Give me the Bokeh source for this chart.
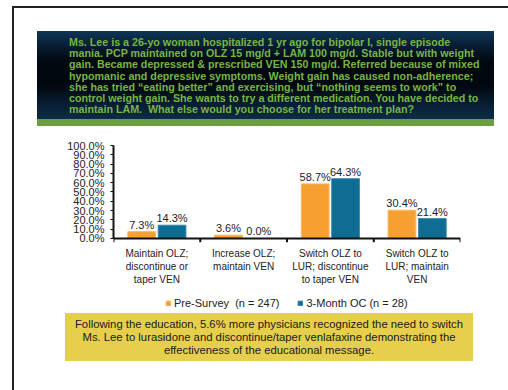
from bokeh.plotting import figure
from bokeh.layouts import column
from bokeh.models import (FactorRange, Range1d, ColumnDataSource, Legend, LegendItem,
                          PrintfTickFormatter, FixedTicker, Div)
from bokeh.transform import dodge
from bokeh.core.properties import value
from bokeh.embed import file_html
from bokeh.resources import INLINE

# ---------------- data ----------------
categories = ["Maintain OLZ;\ndiscontinue or\ntaper VEN",
              "Increase OLZ;\nmaintain VEN",
              "Switch OLZ to\nLUR; discontinue\nto taper VEN",
              "Switch OLZ to\nLUR; maintain\nVEN"]
pre_survey = [7.3, 3.6, 58.7, 30.4]
month3_oc = [14.3, 0.0, 64.3, 21.4]
series_names = ["Pre-Survey  (n = 247)", "3-Month OC (n = 28)"]
y_ticks = [0, 10, 20, 30, 40, 50, 60, 70, 80, 90, 100]

header_lines = [
    "Ms. Lee is a 26-yo woman hospitalized 1 yr ago for bipolar I, single episode",
    "mania. PCP maintained on OLZ 15 mg/d + LAM 100 mg/d. Stable but with weight",
    "gain. Became depressed &amp; prescribed VEN 150 mg/d. Referred because of mixed",
    "hypomanic and depressive symptoms. Weight gain has caused non-adherence;",
    "she has tried \u201ceating better\u201d and exercising, but \u201cnothing seems to work\u201d to",
    "control weight gain. She wants to try a different medication. You have decided to",
    "maintain LAM.&nbsp; What else would you choose for her treatment plan?",
]
footer_lines = [
    "Following the education, 5.6% more physicians recognized the need to switch",
    "Ms. Lee to lurasidone and discontinue/taper venlafaxine demonstrating the",
    "effectiveness of the educational message.",
]

FONT = "Liberation Sans"
ORANGE = "#F6A031"
BLUE = "#0F6C92"

# ---------------- header (HTML) ----------------
header_html = (
    '<div style="position:relative;width:508px;height:130px;">'
    '<div style="position:absolute;left:37px;top:31px;width:457px;height:88px;'
    'background:linear-gradient(to bottom,#0f3556 0%,#06192d 20%,#02080f 35%,#02080f 62%,#071d31 82%,#0c2c49 100%);"></div>'
    '<div style="position:absolute;left:37px;top:119px;width:457px;height:7px;background:#6c9f42;"></div>'
    '<div style="position:absolute;left:69px;top:37px;white-space:nowrap;'
    f'font-family:\'{FONT}\';font-weight:bold;font-size:10.7px;line-height:11.2px;color:#78b443;">'
    + "<br>".join(header_lines) +
    '</div></div>'
)
header = Div(text=header_html, width=508, height=130, margin=0)

# ---------------- chart ----------------
src = ColumnDataSource(dict(cat=categories, pre=pre_survey, oc=month3_oc,
                            pre_lbl=[f"{v:.1f}%" for v in pre_survey],
                            oc_lbl=[f"{v:.1f}%" for v in month3_oc]))

# frame extends below the zero line so the legend can sit inside it
p = figure(width=508, height=230, x_range=FactorRange(*categories, range_padding=0),
           y_range=Range1d(-79.6, 100), output_backend="svg", toolbar_location=None,
           min_border_left=113, min_border_right=48, min_border_top=15, min_border_bottom=48,
           margin=0)
p.outline_line_color = None
p.border_fill_color = None
p.background_fill_color = None
p.grid.visible = False

r1 = p.vbar(x=dodge("cat", -0.175, range=p.x_range), top="pre", width=0.32, source=src,
            fill_color=ORANGE, line_color="#f8b765", line_width=1)
r2 = p.vbar(x=dodge("cat", 0.175, range=p.x_range), top="oc", width=0.32, source=src,
            fill_color=BLUE, line_color="#3a8bb0", line_width=1)
p.text(x=dodge("cat", -0.175, range=p.x_range), y="pre", text="pre_lbl", source=src,
       text_font=value(FONT), text_font_size="11px", text_color="#222222",
       text_align="center", text_baseline="bottom", y_offset=-1)
p.text(x=dodge("cat", 0.175, range=p.x_range), y="oc", text="oc_lbl", source=src,
       text_font=value(FONT), text_font_size="11px", text_color="#222222",
       text_align="center", text_baseline="bottom", y_offset=-1)

# tick marks at the category boundaries (synthetic coordinates 0..n)
bounds = list(range(len(categories) + 1))
p.segment(x0=bounds, x1=bounds, y0=[0] * len(bounds), y1=[-4] * len(bounds),
          line_color="#111111", line_width=2)

yax = p.yaxis[0]
yax.ticker = FixedTicker(ticks=y_ticks)
yax.bounds = (0, 100)
yax.formatter = PrintfTickFormatter(format="%.1f%%")
yax.major_label_text_font = FONT
yax.major_label_text_font_size = "11px"
yax.major_label_text_color = "#222222"
yax.major_label_standoff = 6
yax.axis_line_width = 2
yax.axis_line_color = "#111111"
yax.major_tick_in = 0
yax.major_tick_out = 3
yax.minor_tick_line_color = None

xax = p.xaxis[0]
xax.fixed_location = 0
xax.major_label_text_font = FONT
xax.major_label_text_font_size = "10px"
xax.major_label_text_color = "#222222"
xax.major_label_text_line_height = 1.15
xax.major_label_standoff = 4
xax.axis_line_width = 2
xax.axis_line_color = "#111111"
xax.major_tick_line_color = None

legend = Legend(items=[LegendItem(label=series_names[0], renderers=[r1]),
                       LegendItem(label=series_names[1], renderers=[r2])],
                orientation="horizontal", location=(52, 2),
                label_text_font=FONT, label_text_font_size="11px", label_text_color="#222222",
                glyph_width=6, glyph_height=6, label_standoff=3, spacing=18,
                label_height=14, padding=0, margin=0,
                border_line_color=None, background_fill_alpha=0)
p.add_layout(legend)

# ---------------- footer (HTML), pulled up over the chart's empty axis panel ----------------
footer_html = (
    '<div style="position:relative;width:508px;height:80px;">'
    '<div style="position:absolute;left:65px;top:3px;width:408px;height:48px;background:#e5cf4c;"></div>'
    '<div style="position:absolute;left:65px;top:8px;width:408px;text-align:center;white-space:nowrap;'
    f'font-family:\'{FONT}\';font-size:11.3px;line-height:13px;color:#1a1a1a;">'
    + "<br>".join(footer_lines) +
    '</div></div>'
)
footer = Div(text=footer_html, width=508, height=80, margin=(-50, 0, 0, 0))

page_border = ("linear-gradient(#222,#222) 12px 6px / 2px 384px no-repeat, "
               "linear-gradient(#222,#222) 12px 6px / 496px 2px no-repeat, #ffffff")
layout = column(header, p, footer, spacing=0, styles={"background": page_border})
open("out.html", "w").write(file_html(layout, INLINE))
